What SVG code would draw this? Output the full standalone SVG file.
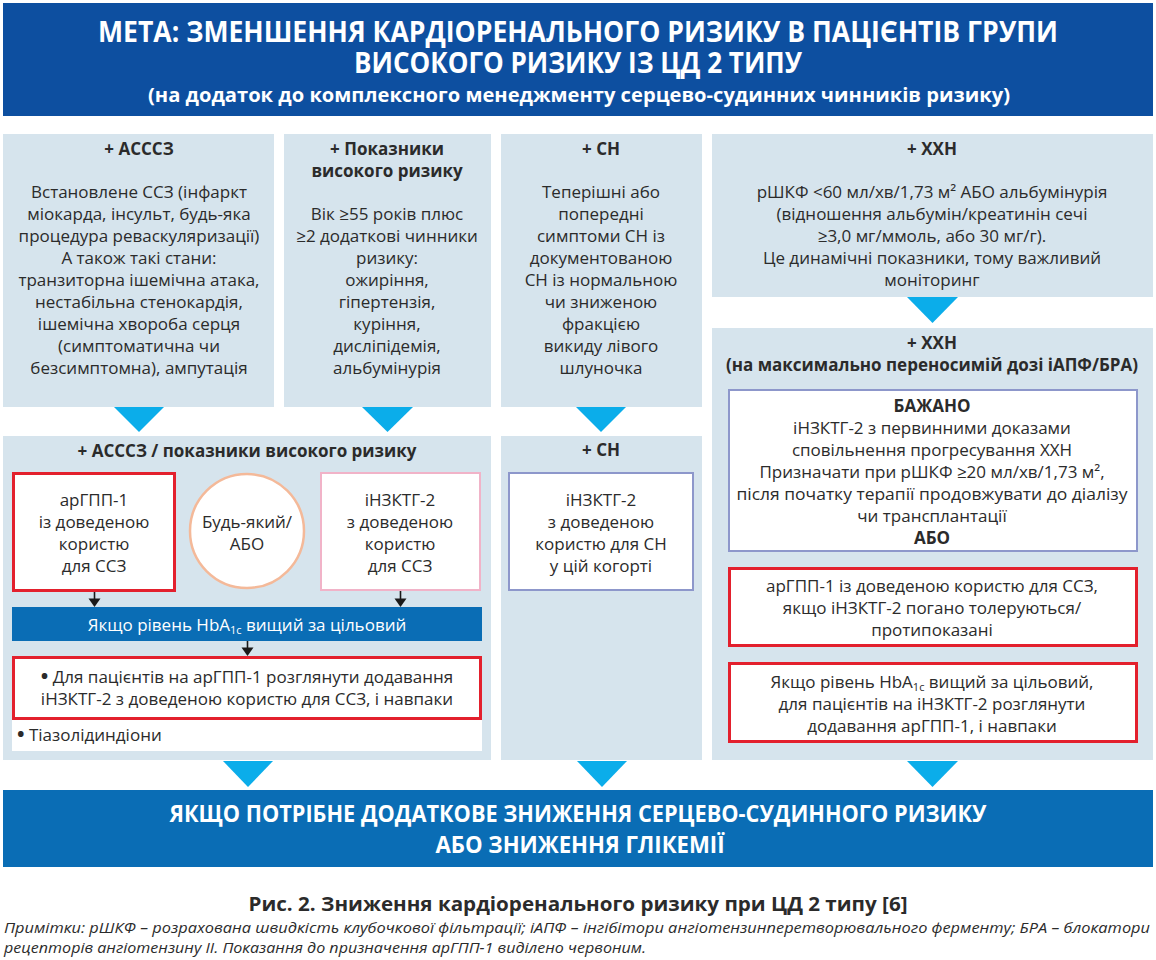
<svg xmlns="http://www.w3.org/2000/svg" width="1156" height="960" viewBox="0 0 1156 960">
<defs>
<style>
.t{font-family:"Open Sans","Noto Sans","DejaVu Sans",sans-serif;font-size:17px;fill:#2b2b2b;text-anchor:middle}
.b{font-weight:bold}
.w{fill:#ffffff}
.panel{fill:#d6e4ed}
.tri{fill:#0badea}
.redbox{fill:#ffffff;stroke:#e3202d;stroke-width:3}
.lavbox{fill:#ffffff;stroke:#8d97cb;stroke-width:2}
.pinkbox{fill:#ffffff;stroke:#f1b3c8;stroke-width:2}
.bar{fill:#0a6db5}
.arr{stroke:#1a1a1a;stroke-width:1.6;fill:none}
.head{fill:#1a1a1a}
.sub{font-size:11px}
.bul{font-size:20px;font-weight:bold}
.title{font-size:28px}
.subtitle{font-size:20px}
.goal{font-size:23px}
.cap{font-size:19px}
.note{font-size:14px;font-style:italic;text-anchor:start}
.left{text-anchor:start}
</style>
</defs>
<rect x="0" y="0" width="1156" height="960" fill="#ffffff"/>

<g id="header">
<rect x="3" y="3" width="1150" height="113" fill="#0d4fa0"/>
<text class="t b w title" x="578" y="42" textLength="960" lengthAdjust="spacingAndGlyphs">МЕТА: ЗМЕНШЕННЯ КАРДІОРЕНАЛЬНОГО РИЗИКУ В ПАЦІЄНТІВ ГРУПИ</text>
<text class="t b w title" x="578" y="73" textLength="448" lengthAdjust="spacingAndGlyphs">ВИСОКОГО РИЗИКУ ІЗ ЦД 2 ТИПУ</text>
<text class="t b w subtitle" x="579" y="102" textLength="862" lengthAdjust="spacingAndGlyphs">(на додаток до комплексного менеджменту серцево-судинних чинників ризику)</text>
</g>

<g id="ascvd">
<rect class="panel" x="3" y="134" width="271" height="273"/>
<text class="t b" x="139" y="155">+ АСССЗ</text>
<text class="t" x="139" y="198">Встановлене ССЗ (інфаркт</text>
<text class="t" x="139" y="220">міокарда, інсульт, будь-яка</text>
<text class="t" x="139" y="242">процедура реваскуляризації)</text>
<text class="t" x="139" y="264">А також такі стани:</text>
<text class="t" x="139" y="286">транзиторна ішемічна атака,</text>
<text class="t" x="139" y="308">нестабільна стенокардія,</text>
<text class="t" x="139" y="330">ішемічна хвороба серця</text>
<text class="t" x="139" y="352">(симптоматична чи</text>
<text class="t" x="139" y="374">безсимптомна), ампутація</text>
</g>

<g id="highrisk">
<rect class="panel" x="284" y="134" width="207" height="273"/>
<text class="t b" x="387" y="155">+ Показники</text>
<text class="t b" x="387" y="177">високого ризику</text>
<text class="t" x="387" y="220">Вік ≥55 років плюс</text>
<text class="t" x="387" y="242">≥2 додаткові чинники</text>
<text class="t" x="387" y="264">ризику:</text>
<text class="t" x="387" y="286">ожиріння,</text>
<text class="t" x="387" y="308">гіпертензія,</text>
<text class="t" x="387" y="330">куріння,</text>
<text class="t" x="387" y="352">дисліпідемія,</text>
<text class="t" x="387" y="374">альбумінурія</text>
</g>

<g id="hf">
<rect class="panel" x="501" y="134" width="201" height="273"/>
<text class="t b" x="601" y="155">+ СН</text>
<text class="t" x="601" y="198">Теперішні або</text>
<text class="t" x="601" y="220">попередні</text>
<text class="t" x="601" y="242">симптоми СН із</text>
<text class="t" x="601" y="264">документованою</text>
<text class="t" x="601" y="286">СН із нормальною</text>
<text class="t" x="601" y="308">чи зниженою</text>
<text class="t" x="601" y="330">фракцією</text>
<text class="t" x="601" y="352">викиду лівого</text>
<text class="t" x="601" y="374">шлуночка</text>
</g>

<g id="ckd">
<rect class="panel" x="712" y="134" width="441" height="163"/>
<text class="t b" x="932" y="155">+ ХХН</text>
<text class="t" x="932" y="198">рШКФ &lt;60 мл/хв/1,73 м² АБО альбумінурія</text>
<text class="t" x="932" y="220">(відношення альбумін/креатинін сечі</text>
<text class="t" x="932" y="242">≥3,0 мг/ммоль, або 30 мг/г).</text>
<text class="t" x="932" y="264">Це динамічні показники, тому важливий</text>
<text class="t" x="932" y="286">моніторинг</text>
</g>

<g id="ascvd-treatment">
<rect class="panel" x="3" y="436" width="488" height="324"/>
<text class="t b" x="247" y="457">+ АСССЗ / показники високого ризику</text>
<g id="glp1-box">
<rect class="redbox" x="13.5" y="473.5" width="161" height="117"/>
<text class="t" x="94" y="506">арГПП-1</text>
<text class="t" x="94" y="528">із доведеною</text>
<text class="t" x="94" y="550">користю</text>
<text class="t" x="94" y="572">для ССЗ</text>
</g>
<g id="or-circle">
<circle cx="247" cy="531" r="57" fill="#ffffff" stroke="#f4b999" stroke-width="2.5"/>
<text class="t" x="247" y="528">Будь-який/</text>
<text class="t" x="247" y="550">АБО</text>
</g>
<g id="sglt2-box">
<rect class="pinkbox" x="321" y="473" width="159" height="117"/>
<text class="t" x="400" y="506">іНЗКТГ-2</text>
<text class="t" x="400" y="528">з доведеною</text>
<text class="t" x="400" y="550">користю</text>
<text class="t" x="400" y="572">для ССЗ</text>
</g>
<g id="hba1c-bar">
<rect class="bar" x="12" y="607" width="470" height="34"/>
<text class="t w" x="247" y="631">Якщо рівень HbA<tspan class="sub" dy="3">1c</tspan><tspan dy="-3"> вищий за цільовий</tspan></text>
</g>
<g id="combo-box">
<rect x="12" y="700" width="470" height="51" fill="#ffffff"/>
<rect class="redbox" x="13.5" y="657.5" width="467" height="61"/>
<text class="t" x="247" y="683"><tspan class="bul">•</tspan> Для пацієнтів на арГПП-1 розглянути додавання</text>
<text class="t" x="247" y="705">іНЗКТГ-2 з доведеною користю для ССЗ, і навпаки</text>
<text class="t left" x="17" y="741"><tspan class="bul">•</tspan> Тіазолідиндіони</text>
</g>
</g>

<g id="hf-treatment">
<rect class="panel" x="501" y="436" width="201" height="324"/>
<text class="t b" x="601" y="456">+ СН</text>
<rect class="lavbox" x="509" y="473" width="184" height="117"/>
<text class="t" x="601" y="506">іНЗКТГ-2</text>
<text class="t" x="601" y="528">з доведеною</text>
<text class="t" x="601" y="550">користю для СН</text>
<text class="t" x="601" y="572">у цій когорті</text>
</g>

<g id="ckd-treatment">
<rect class="panel" x="712" y="328" width="441" height="432"/>
<text class="t b" x="932" y="349">+ ХХН</text>
<text class="t b" x="932" y="371">(на максимально переносимій дозі іАПФ/БРА)</text>
<g id="preferred-box">
<rect class="lavbox" x="729" y="390" width="408" height="161"/>
<text class="t b" x="932" y="412">БАЖАНО</text>
<text class="t" x="932" y="434">іНЗКТГ-2 з первинними доказами</text>
<text class="t" x="932" y="456">сповільнення прогресування ХХН</text>
<text class="t" x="932" y="478">Призначати при рШКФ ≥20 мл/хв/1,73 м²,</text>
<text class="t" x="932" y="500" textLength="391" lengthAdjust="spacingAndGlyphs">після початку терапії продовжувати до діалізу</text>
<text class="t" x="932" y="522">чи трансплантації</text>
<text class="t b" x="932" y="544">АБО</text>
</g>
<g id="glp1-alt-box">
<rect class="redbox" x="729.5" y="568.5" width="407" height="77"/>
<text class="t" x="932" y="592">арГПП-1 із доведеною користю для ССЗ,</text>
<text class="t" x="932" y="614">якщо іНЗКТГ-2 погано толеруються/</text>
<text class="t" x="932" y="636">протипоказані</text>
</g>
<g id="hba1c-ckd-box">
<rect class="redbox" x="729.5" y="663.5" width="407" height="78"/>
<text class="t" x="932" y="688">Якщо рівень HbA<tspan class="sub" dy="3">1c</tspan><tspan dy="-3"> вищий за цільовий,</tspan></text>
<text class="t" x="932" y="710">для пацієнтів на іНЗКТГ-2 розглянути</text>
<text class="t" x="932" y="732">додавання арГПП-1, і навпаки</text>
</g>
</g>

<g id="goal-bottom">
<rect class="bar" x="3" y="790" width="1150" height="77"/>
<text class="t b w goal" x="578" y="822" textLength="817" lengthAdjust="spacingAndGlyphs">ЯКЩО ПОТРІБНЕ ДОДАТКОВЕ ЗНИЖЕННЯ СЕРЦЕВО-СУДИННОГО РИЗИКУ</text>
<text class="t b w goal" x="580" y="853" textLength="289" lengthAdjust="spacingAndGlyphs">АБО ЗНИЖЕННЯ ГЛІКЕМІЇ</text>
</g>

<g id="connectors">
<polygon class="tri" points="114,407 164,407 139,432"/>
<polygon class="tri" points="362,407 413,407 387.5,432"/>
<polygon class="tri" points="576,407 626,407 601,432"/>
<polygon class="tri" points="907,297 958,297 932.5,323"/>
<polygon class="tri" points="223,761 273,761 248,787"/>
<polygon class="tri" points="577,761 627,761 602,787"/>
<polygon class="tri" points="907,761 958,761 932.5,787"/>
<line class="arr" x1="94.5" y1="592" x2="94.5" y2="600"/>
<polygon class="head" points="88.5,598.5 100.5,598.5 94.5,607"/>
<line class="arr" x1="400.5" y1="591" x2="400.5" y2="600"/>
<polygon class="head" points="394.5,598.5 406.5,598.5 400.5,607"/>
<line class="arr" x1="247.5" y1="641" x2="247.5" y2="649"/>
<polygon class="head" points="241.5,647.5 253.5,647.5 247.5,656"/>
</g>

<g id="caption">
<text class="t b cap" x="578" y="911" textLength="659" lengthAdjust="spacingAndGlyphs">Рис. 2. Зниження кардіоренального ризику при ЦД 2 типу [6]</text>
<text class="t note" x="4" y="933" textLength="1146" lengthAdjust="spacingAndGlyphs">Примітки: рШКФ – розрахована швидкість клубочкової фільтрації; іАПФ – інгібітори ангіотензинперетворювального ферменту; БРА – блокатори</text>
<text class="t note" x="4" y="953" textLength="642" lengthAdjust="spacingAndGlyphs">рецепторів ангіотензину II. Показання до призначення арГПП-1 виділено червоним.</text>
</g>
</svg>
